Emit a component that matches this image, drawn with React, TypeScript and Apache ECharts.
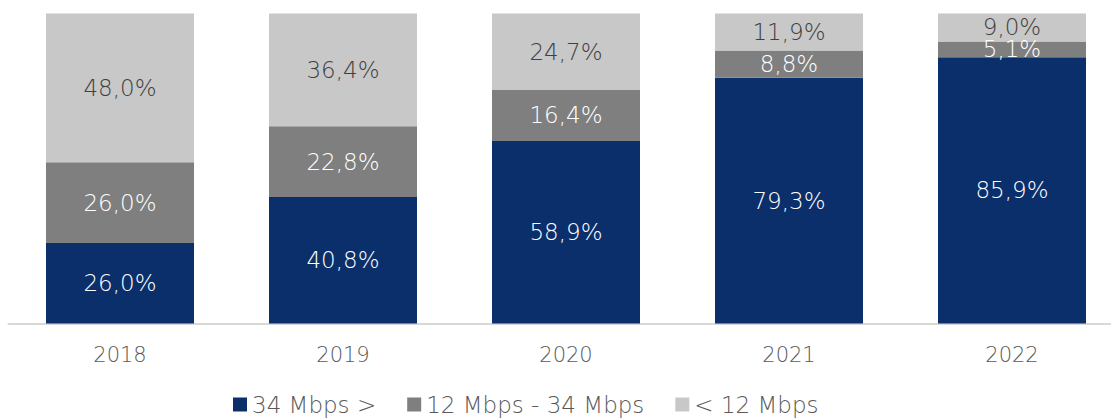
import React, { useEffect, useRef } from "react";
import * as echarts from "echarts";

const categories = ["2018", "2019", "2020", "2021", "2022"];
const fast = [26.0, 40.8, 58.9, 79.3, 85.9];
const mid = [26.0, 22.8, 16.4, 8.8, 5.1];
const slow = [48.0, 36.4, 24.7, 11.9, 9.0];
const seriesNames = ["34 Mbps >", "12 Mbps - 34 Mbps", "< 12 Mbps"];

const FONT = "'DejaVu Sans', sans-serif";
const fmt = (p: any) => Number(p.value).toFixed(1).replace(".", ",") + "%";

export default function App() {
  const ref = useRef<HTMLDivElement>(null);
  useEffect(() => {
    if (!ref.current) return;
    const chart = echarts.init(ref.current, null, { renderer: "svg" });
    const mk = (name: string, data: number[], color: string, labelColor: string) => ({
      name,
      type: "bar",
      stack: "total",
      data,
      barWidth: 148,
      itemStyle: { color },
      label: {
        show: true,
        position: "inside",
        formatter: fmt,
        color: labelColor,
        fontFamily: FONT,
        fontSize: 23,
        fontWeight: 200,
      },
    });
    chart.setOption({
      animation: false,
      textStyle: { fontFamily: FONT },
      grid: { left: 8.5, top: 13.5, width: 1115, height: 310, containLabel: false },
      legend: {
        data: seriesNames,
        top: 393,
        left: 233,
        padding: 0,
        icon: "rect",
        itemWidth: 14,
        itemHeight: 14,
        itemGap: 31,
        textStyle: { color: "#595959", fontSize: 23, fontFamily: FONT, fontWeight: 200 },
      },
      xAxis: {
        type: "category",
        data: categories,
        axisLine: { lineStyle: { color: "#d9d9d9", width: 2 } },
        axisTick: { show: false },
        axisLabel: { color: "#595959", fontSize: 21, fontFamily: FONT, fontWeight: 200, margin: 21 },
      },
      yAxis: {
        type: "value",
        min: 0,
        max: 100,
        show: false,
        splitLine: { show: false },
      },
      series: [
        mk(seriesNames[0], fast, "#0b2f6b", "#ffffff"),
        mk(seriesNames[1], mid, "#7f7f7f", "#ffffff"),
        mk(seriesNames[2], slow, "#c8c8c8", "#404040"),
      ],
    });
    return () => chart.dispose();
  }, []);
  return (
    <div style={{ position: "absolute", left: 0, top: 0, width: 1111, height: 418, overflow: "hidden", background: "#fff" }}>
      <div ref={ref} style={{ position: "absolute", left: 0, top: 0, width: 1124, height: 418 }} />
    </div>
  );
}
